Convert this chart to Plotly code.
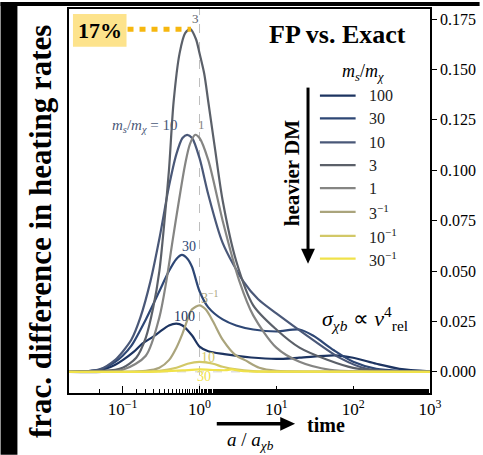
import plotly.graph_objects as go

# ---------------- data ----------------
labels = ["100", "30", "10", "3", "1", "3<sup>−1</sup>", "10<sup>−1</sup>", "30<sup>−1</sup>"]
colors = ["#1d3461", "#2e4775", "#4a5878", "#5b6069", "#858583", "#aaa47c", "#d2c867", "#f0e24a"]

x_100 = [0.02, 0.04, 0.06, 0.08, 0.1, 0.14, 0.18, 0.25, 0.3, 0.4, 0.5, 0.6, 0.8, 1.0, 1.3, 2.1, 4.7, 10, 20, 57, 100, 200, 400, 1000]
y_100 = [0.0, 0.0005, 0.0015, 0.0035, 0.0058, 0.010, 0.014, 0.0175, 0.0197, 0.023, 0.0239, 0.0230, 0.018, 0.0125, 0.0102, 0.0088, 0.0071, 0.0064, 0.007, 0.0082, 0.007, 0.004, 0.0015, 0.0003]

x_30 = [0.02, 0.05, 0.08, 0.1, 0.13, 0.2, 0.3, 0.4, 0.5, 0.59, 0.7, 0.8, 1.0, 1.3, 2, 3, 5, 10, 20, 30, 56, 100, 200, 500, 1000]
y_30 = [0.0, 0.001, 0.005, 0.008, 0.013, 0.026, 0.040, 0.050, 0.056, 0.058, 0.056, 0.052, 0.040, 0.032, 0.026, 0.023, 0.021, 0.020, 0.021, 0.018, 0.0107, 0.005, 0.0015, 0.0004, 0.0]

x_10 = [0.02, 0.05, 0.08, 0.1, 0.13, 0.17, 0.23, 0.3, 0.4, 0.5, 0.6, 0.69, 0.8, 1.0, 1.3, 2, 3.7, 5.8, 10, 25, 68, 150, 370, 1000]
y_10 = [0.0, 0.0012, 0.006, 0.010, 0.016, 0.027, 0.045, 0.066, 0.092, 0.108, 0.116, 0.1176, 0.116, 0.106, 0.088, 0.064, 0.045, 0.036, 0.029, 0.018, 0.0068, 0.0015, 0.0003, 0.0]

x_3 = [0.02, 0.08, 0.1, 0.15, 0.2, 0.25, 0.3, 0.35, 0.4, 0.46, 0.55, 0.65, 0.76, 0.9, 1.0, 1.15, 1.3, 1.6, 2, 3, 5, 10, 20, 46, 100, 300, 1000]
y_3 = [0.0, 0.001, 0.002, 0.007, 0.017, 0.032, 0.050, 0.075, 0.100, 0.134, 0.158, 0.168, 0.170, 0.165, 0.158, 0.148, 0.134, 0.110, 0.085, 0.055, 0.033, 0.021, 0.012, 0.006, 0.002, 0.0003, 0.0]

x_1 = [0.02, 0.1, 0.2, 0.3, 0.37, 0.45, 0.54, 0.65, 0.75, 0.88, 1.0, 1.3, 2, 3.3, 5, 10, 20, 50, 150, 1000]
y_1 = [0.0, 0.001, 0.008, 0.027, 0.045, 0.066, 0.085, 0.103, 0.113, 0.1176, 0.116, 0.105, 0.075, 0.045, 0.028, 0.012, 0.005, 0.001, 0.0002, 0.0]

x_3i = [0.02, 0.2, 0.3, 0.4, 0.5, 0.6, 0.7, 0.8, 1.0, 1.2, 1.5, 2, 3, 3.9, 6, 10, 30, 1000]
y_3i = [0.0, 0.0005, 0.002, 0.0058, 0.012, 0.019, 0.026, 0.031, 0.033, 0.031, 0.025, 0.016, 0.008, 0.0058, 0.002, 0.0005, 0.0001, 0.0]

x_10i = [0.02, 0.3, 0.5, 0.7, 1.0, 1.5, 2, 3, 5, 10, 1000]
y_10i = [0.0, 0.0005, 0.002, 0.004, 0.0049, 0.004, 0.0025, 0.0012, 0.0004, 0.0001, 0.0]

x_30i = [0.02, 0.3, 0.6, 1.0, 1.6, 2.2, 2.6, 3.5, 6, 1000]
y_30i = [0.0, 0.0001, 0.0007, 0.0012, 0.0009, 0.0008, 0.0012, 0.0004, 0.0001, 0.0]

xs = [x_100, x_30, x_10, x_3, x_1, x_3i, x_10i, x_30i]
ys = [y_100, y_30, y_10, y_3, y_1, y_3i, y_10i, y_30i]

ytick_vals = [0.0, 0.025, 0.05, 0.075, 0.1, 0.125, 0.15, 0.175]
xtick_vals = [0.1, 1, 10, 100, 1000]
xtick_text = ["10<sup>−1</sup>", "10<sup>0</sup>", "10<sup>1</sup>", "10<sup>2</sup>", "10<sup>3</sup>"]
peak_value = 0.17

# ---------------- layout geometry (pixels) ----------------
W, H = 483, 455
L, R, T, B = 69, 433, 7, 393
PW, PH = R - L, B - T


def px(xp):
    return (xp - L) / PW


def py(yp):
    return (B - yp) / PH


SERIF = "Liberation Serif"

fig = go.Figure()
for xv, yv, c, lab in zip(xs, ys, colors, labels):
    fig.add_trace(go.Scatter(x=xv, y=yv, mode="lines", line=dict(color=c, width=2.2, shape="spline", smoothing=0.8),
                             name=lab, showlegend=False, hoverinfo="skip"))

shapes = []
shapes.append(dict(type="line", xref="x", yref="paper", x0=1, x1=1, y0=0, y1=1,
                   line=dict(color="#bdbdbd", width=1, dash="dash"), layer="below"))
shapes.append(dict(type="line", xref="paper", yref="y", x0=0, x1=1, y0=0, y1=0,
                   line=dict(color="#cfcfcf", width=1, dash="dash"), layer="below"))
shapes.append(dict(type="rect", xref="paper", yref="paper", x0=px(73), x1=px(127), y0=py(45), y1=py(12),
                   fillcolor="#fde38c", line=dict(width=0), layer="above"))
shapes.append(dict(type="line", xref="paper", yref="y", x0=px(128), x1=px(192), y0=peak_value, y1=peak_value,
                   line=dict(color="#f6b70f", width=5, dash="6px,6px")))
shapes.append(dict(type="rect", xref="paper", yref="paper", x0=px(0), x1=px(17), y0=py(455), y1=py(0),
                   fillcolor="black", line=dict(width=0)))
shapes.append(dict(type="rect", xref="paper", yref="paper", x0=px(0), x1=px(483), y0=py(4), y1=py(0),
                   fillcolor="black", line=dict(width=0)))
leg_y = [94, 117, 141, 164, 187, 211, 235, 258]
for c, yy in zip(colors, leg_y):
    shapes.append(dict(type="line", xref="paper", yref="paper", x0=px(322), x1=px(358), y0=py(yy), y1=py(yy),
                       line=dict(color=c, width=2.2)))
shapes.append(dict(type="line", xref="paper", yref="paper", x0=px(310), x1=px(310), y0=py(86), y1=py(250),
                   line=dict(color="black", width=3)))
shapes.append(dict(type="path", xref="paper", yref="paper",
                   path=f"M {px(303)} {py(248)} L {px(317)} {py(248)} L {px(310)} {py(263)} Z",
                   fillcolor="black", line=dict(width=0)))
shapes.append(dict(type="line", xref="paper", yref="paper", x0=px(218), x1=px(285), y0=py(424), y1=py(424),
                   line=dict(color="black", width=3.5)))
shapes.append(dict(type="path", xref="paper", yref="paper",
                   path=f"M {px(282)} {py(417)} L {px(282)} {py(431)} L {px(297)} {py(424)} Z",
                   fillcolor="black", line=dict(width=0)))

ann = []


def A(x, y, text, size=14, color="black", **kw):
    d = dict(xref="paper", yref="paper", x=px(x), y=py(y), text=text, showarrow=False,
             font=dict(family=SERIF, size=size, color=color), xanchor="center", yanchor="middle")
    d.update(kw)
    ann.append(d)


A(100, 29, "<b>17%</b>", 22)
A(340, 33, "<b>FP vs. Exact</b>", 26)
A(365, 71, "<i>m<sub>s</sub></i>/<i>m<sub>χ</sub></i>", 18)
for lab, c, yy in zip(labels, colors, leg_y):
    A(369, yy, lab, 16, "#222222", xanchor="left")
A(294, 172, "<b>heavier DM</b>", 21, textangle=-90)
A(367, 318, "<i>σ<sub>χb</sub></i> ∝ <i>v</i><sup>4</sup><sub>rel</sub>", 22)
A(41, 230, "<b>frac. difference in heating rates</b>", 31, textangle=-90)
A(252, 441, "<i>a</i> / <i>a<sub>χb</sub></i>", 19)
A(328, 425, "<b>time</b>", 20)
A(197, 17, "3", 13, colors[3])
A(146, 125, "<i>m<sub>s</sub></i>/<i>m<sub>χ</sub></i> = 10", 15, colors[2])
A(203, 123, "1", 13, colors[4])
A(190, 246, "30", 14, colors[1])
A(185, 316, "100", 14, colors[0])
A(211, 297, "3<sup>−1</sup>", 14, colors[5])
A(209, 357, "10", 14, colors[6])
A(205, 376, "30", 14, colors[7])

fig.update_layout(
    width=W, height=H, margin=dict(l=L, r=W - R, t=T, b=H - B),
    paper_bgcolor="white", plot_bgcolor="white",
    shapes=shapes, annotations=ann, showlegend=False,
    font=dict(family=SERIF, size=15, color="black"),
    xaxis=dict(type="log", range=[-1.699, 3], tickvals=xtick_vals, ticktext=xtick_text,
               ticks="inside", ticklen=7, tickwidth=1, tickcolor="black",
               minor=dict(ticks="inside", ticklen=4, tickcolor="black", showgrid=False),
               showline=True, linecolor="black", linewidth=1.5, mirror=True, showgrid=False, zeroline=False,
               tickfont=dict(family=SERIF, size=17)),
    yaxis=dict(side="right", range=[-0.0105, 0.1800], tickvals=ytick_vals, tickformat=".3f",
               ticks="outside", ticklen=5, tickcolor="black", showline=True, linecolor="black", linewidth=1.5,
               mirror=True, showgrid=False, zeroline=False, tickfont=dict(family=SERIF, size=16)),
    yaxis2=dict(overlaying="y", side="left", matches="y", tickvals=ytick_vals, ticks="inside", ticklen=5,
                tickcolor="black", showticklabels=False, showgrid=False, zeroline=False, showline=False),
)
fig.write_html("out.html")
